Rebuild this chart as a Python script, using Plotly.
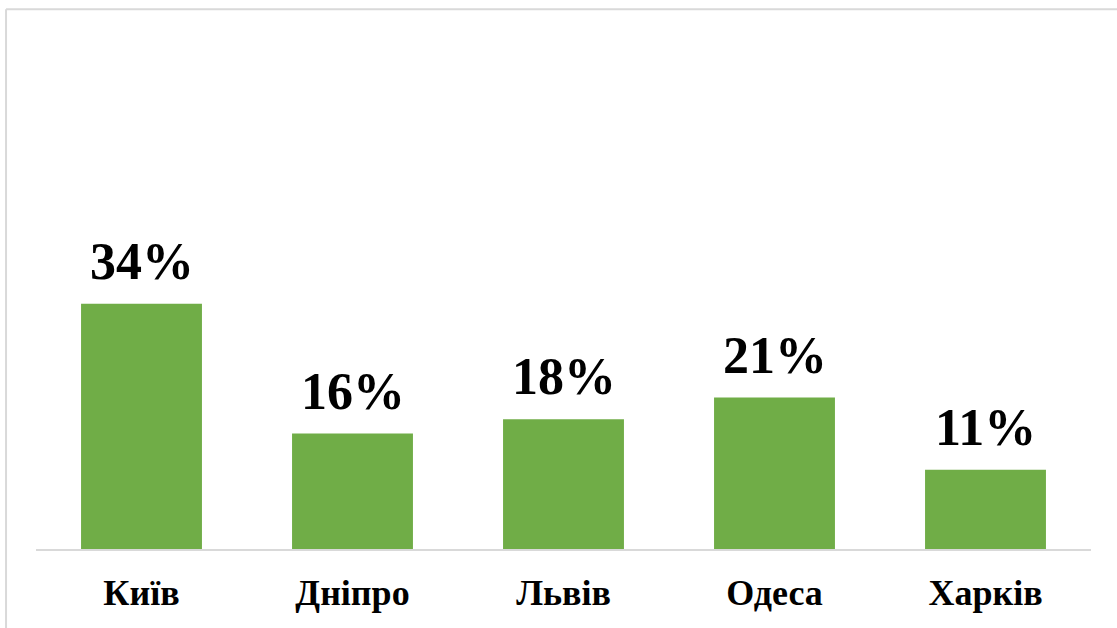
import plotly.graph_objects as go

# Share by city
cities = ["Київ", "Дніпро", "Львів", "Одеса", "Харків"]
shares = [34, 16, 18, 21, 11]

BAR_COLOR = "#70AD47"
FONT = "Liberation Serif"

fig = go.Figure(
    go.Bar(
        x=cities,
        y=[v / 100 for v in shares],
        marker=dict(color=BAR_COLOR, line=dict(width=0)),
        hoverinfo="skip",
    )
)

# value labels above each bar
for c, v in zip(cities, shares):
    fig.add_annotation(
        x=c, y=v / 100, text=f"{v}%", showarrow=False,
        yanchor="bottom", yshift=12,
        font=dict(family=FONT, size=52, color="black", weight="bold"),
    )

# thin frame along the top and left edges
frame = dict(color="#D9D9D9", width=2)
fig.add_shape(type="line", xref="paper", yref="paper",
              x0=-0.0284, x1=1.03, y0=1.069, y1=1.069, line=frame)
fig.add_shape(type="line", xref="paper", yref="paper",
              x0=-0.0284, x1=-0.0284, y0=1.069, y1=-0.2, line=frame)

fig.update_layout(
    width=1117, height=628,
    margin=dict(l=36, r=26, t=44, b=79),
    paper_bgcolor="white", plot_bgcolor="white",
    bargap=0.427,
    showlegend=False,
    xaxis=dict(
        showline=True, linecolor="#D9D9D9", linewidth=2,
        ticks="", showgrid=False, ticklabelstandoff=11, automargin=False,
        tickfont=dict(family=FONT, size=36, color="black", weight="bold"),
    ),
    yaxis=dict(range=[0, 0.7], visible=False, showgrid=False, zeroline=False,
               automargin=False),
)

fig.write_html("out.html")
